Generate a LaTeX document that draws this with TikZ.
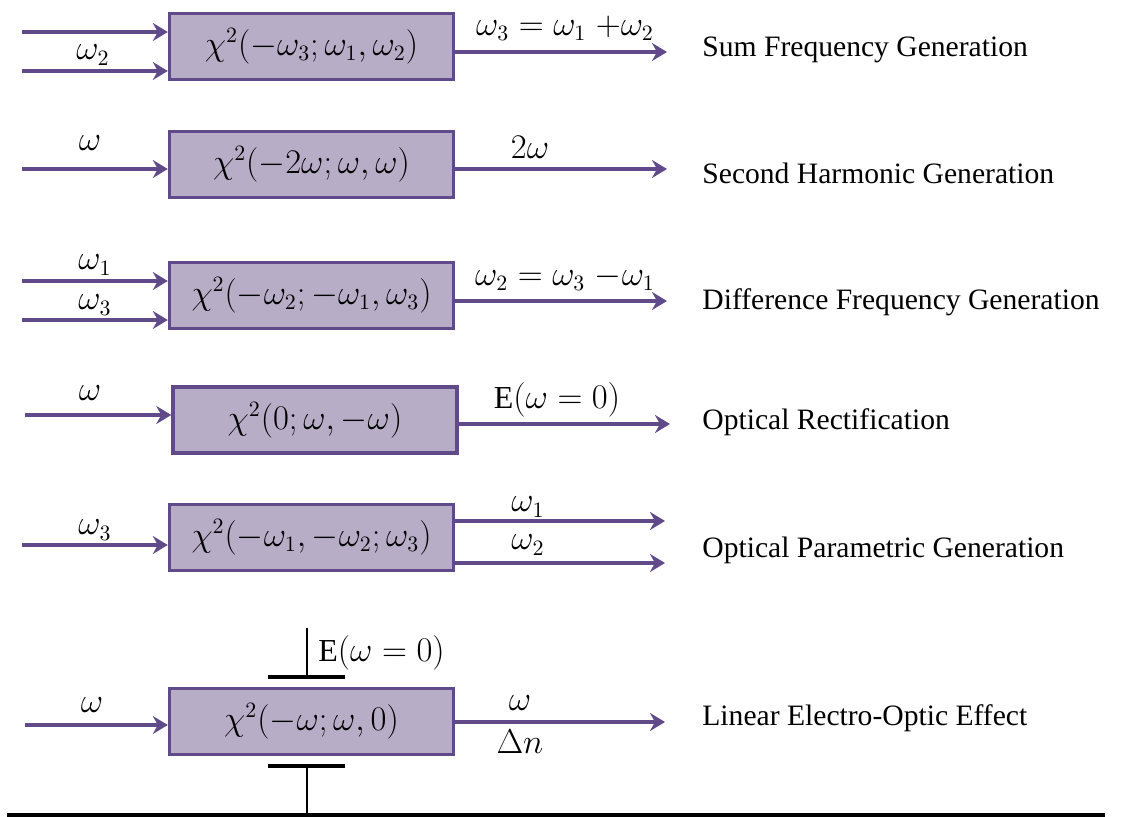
\documentclass[tikz,border=0pt]{standalone}
\usepackage{fontspec}
\setmainfont{Liberation Serif}
\newfontfamily\effectfont{Liberation Serif}
\usetikzlibrary{arrows.meta}
\definecolor{chifill}{RGB}{183,173,199}
\definecolor{chiline}{RGB}{96,74,138}
\begin{document}
\begin{tikzpicture}[x=0.5pt, y=-0.5pt,
    every node/.style={font=\fontsize{16}{19}\selectfont, inner sep=1pt},
    chi/.style={draw=chiline, fill=chifill, line width=1.7pt, minimum width=142pt, minimum height=33pt},
    beam/.style={draw=chiline, line width=1.7pt, -{Stealth[length=7.5pt, width=9pt, inset=2.5pt]}},
    effect/.style={anchor=west, font=\effectfont\fontsize{14.8}{17}\selectfont},
    plate/.style={line width=2pt},
    stem/.style={line width=1.1pt}]
    \useasboundingbox (0,0) rectangle (1125,817);
    % the six chi^(2) processes
    \node[chi] (sfg) at (311.5,46.5)  {$\chi^2(-\omega_3;\omega_1,\omega_2)$};
    \node[chi] (shg) at (311.5,164.5) {$\chi^2(-2\omega;\omega,\omega)$};
    \node[chi] (dfg) at (311.5,295.5) {$\chi^2(-\omega_2;-\omega_1,\omega_3)$};
    \node[chi] (orx) at (315,420)     {$\chi^2(0;\omega,-\omega)$};
    \node[chi] (opg) at (311.5,537.5) {$\chi^2(-\omega_1,-\omega_2;\omega_3)$};
    \node[chi] (eoe) at (311.5,721.5) {$\chi^2(-\omega;\omega,0)$};
    % beam ends
    \coordinate (sfg-a) at (22,32);  \coordinate (sfg-b) at (22,71);  \coordinate (sfg-o) at (667,52);
    \coordinate (shg-a) at (22,169); \coordinate (shg-o) at (667,169);
    \coordinate (dfg-a) at (22,281); \coordinate (dfg-b) at (22,320); \coordinate (dfg-o) at (667,301);
    \coordinate (orx-a) at (25,415); \coordinate (orx-o) at (670,424);
    \coordinate (opg-a) at (22,545); \coordinate (opg-o) at (665,521); \coordinate (opg-p) at (665,563);
    \coordinate (eoe-a) at (25,725); \coordinate (eoe-o) at (665,722);
    % input beams
    \foreach \c/\b in {sfg-a/sfg, sfg-b/sfg, shg-a/shg, dfg-a/dfg, dfg-b/dfg, orx-a/orx, opg-a/opg, eoe-a/eoe}
        \draw[beam] (\c) -- (\c -| \b.west);
    % output beams
    \foreach \c/\b in {sfg-o/sfg, shg-o/shg, dfg-o/dfg, orx-o/orx, opg-o/opg, opg-p/opg, eoe-o/eoe}
        \draw[beam] (\c -| \b.east) -- (\c);
    % frequency labels
    \node (sfg-l2) at (93,55)  {$\omega_2$};
    \node (sfg-l3) at (565,28) {$\omega_3=\omega_1\;{+}\omega_2$};
    \node (shg-l1) at (90,143) {$\omega$};
    \node (shg-l2) at (530,147) {$2\omega$};
    \node (dfg-l1) at (95,265) {$\omega_1$};
    \node (dfg-l3) at (95,305) {$\omega_3$};
    \node (dfg-l2) at (565,278) {$\omega_2=\omega_3\;{-}\omega_1$};
    \node (orx-l1) at (90,393) {$\omega$};
    \node (orx-l0) at (557,400) {E$(\omega=0)$};
    \node (opg-l3) at (95,530) {$\omega_3$};
    \node (opg-l1) at (528,507) {$\omega_1$};
    \node (opg-l2) at (528,545) {$\omega_2$};
    \node (eoe-l1) at (92,705) {$\omega$};
    \node (eoe-l2) at (520,703) {$\omega$};
    \node (eoe-ln) at (520,742) {$\Delta n$};
    % effect names
    \node[effect] (sfg-t) at (700,50)  {Sum Frequency Generation};
    \node[effect] (shg-t) at (700,173) {Second Harmonic Generation};
    \node[effect] (dfg-t) at (700,302) {Difference Frequency Generation};
    \node[effect] (orx-t) at (700,422) {Optical Rectification};
    \node[effect] (opg-t) at (700,550) {Optical Parametric Generation};
    \node[effect] (eoe-t) at (700,718) {Linear Electro-Optic Effect};
    % electrodes and static field
    \coordinate (base-l) at (7,815);   \coordinate (base-r) at (1105,815);
    \coordinate (top-w) at (307,628);  \coordinate (top-p) at (307,677);
    \coordinate (bot-p) at (307,766);
    \draw[stem] (top-w) -- (top-p);
    \draw[plate] (268,677) -- (345,677);
    \node[anchor=west] (eoe-e) at (316,653) {E$(\omega=0)$};
    \draw[plate] (268,766) -- (345,766);
    \draw[stem] (bot-p) -- (bot-p |- base-l);
    \draw[line width=2pt] (base-l) -- (base-r);
\end{tikzpicture}
\end{document}
